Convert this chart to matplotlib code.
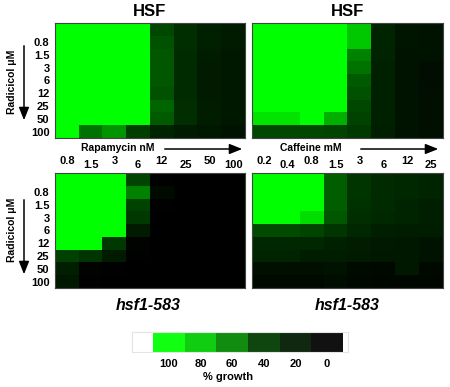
import numpy as np
import matplotlib
matplotlib.use('Agg')
import matplotlib.pyplot as plt
from matplotlib.colors import LinearSegmentedColormap

plt.rcParams['font.family'] = ['Liberation Sans', 'DejaVu Sans']
plt.rcParams['font.weight'] = 'bold'

# concentrations (first row = no radicicol, unlabeled)
radicicol = ['0.8', '1.5', '3', '6', '12', '25', '50', '100']
rapamycin = ['0.8', '1.5', '3', '6', '12', '25', '50', '100']
caffeine = ['0.2', '0.4', '0.8', '1.5', '3', '6', '12', '25']

# % growth, rows = radicicol (0, 0.8 ... 100), cols = second drug
hsf_rapa = np.array([
    [100, 100, 100, 100, 38, 24, 17, 14],
    [100, 100, 100, 100, 42, 24, 17, 14],
    [100, 100, 100, 100, 44, 22, 15, 12],
    [100, 100, 100, 100, 44, 22, 14, 12],
    [100, 100, 100, 100, 44, 22, 14, 12],
    [100, 100, 100, 100, 42, 22, 14, 12],
    [100, 100, 100, 100, 48, 24, 15, 12],
    [100, 100, 100, 100, 45, 24, 15, 12],
    [100, 52, 63, 33, 18, 14, 12, 10],
])
hsf_caff = np.array([
    [100, 100, 100, 100, 80, 18, 11, 10],
    [100, 100, 100, 100, 80, 18, 11, 10],
    [100, 100, 100, 100, 57, 18, 10, 9],
    [100, 100, 100, 100, 52, 17, 10, 7],
    [100, 100, 100, 100, 45, 17, 10, 7],
    [100, 100, 100, 100, 42, 17, 10, 8],
    [100, 100, 100, 100, 38, 17, 10, 8],
    [90, 90, 100, 72, 35, 17, 10, 8],
    [38, 38, 38, 36, 30, 16, 10, 8],
])
mut_rapa = np.array([
    [100, 100, 100, 36, 1, 0, 0, 0],
    [100, 100, 100, 57, 6, 0, 0, 0],
    [100, 100, 100, 35, 1, 0, 0, 0],
    [100, 100, 100, 30, 0, 0, 0, 0],
    [100, 100, 100, 14, 0, 0, 0, 0],
    [100, 100, 30, 2, 0, 0, 0, 0],
    [34, 28, 14, 1, 0, 0, 0, 0],
    [16, 2, 1, 0, 0, 0, 0, 0],
    [12, 1, 0, 0, 0, 0, 0, 0],
])
mut_caff = np.array([
    [100, 100, 100, 46, 28, 22, 20, 18],
    [100, 100, 100, 46, 28, 22, 20, 18],
    [100, 100, 100, 46, 26, 22, 18, 16],
    [100, 100, 88, 44, 24, 20, 18, 16],
    [40, 40, 36, 28, 20, 16, 15, 15],
    [20, 20, 20, 17, 15, 13, 12, 10],
    [18, 18, 15, 15, 14, 12, 12, 10],
    [8, 8, 8, 10, 6, 5, 12, 5],
    [5, 5, 5, 7, 5, 4, 4, 4],
])

pct_labels = ['100', '80', '60', '40', '20', '0']
pct_colors = ['#11ff11', '#11cd11', '#118c11', '#0f460f', '#0f280f', '#111111']

green = LinearSegmentedColormap.from_list('grow', [
    (0.0, '#000000'), (0.2, '#002800'), (0.4, '#004b00'),
    (0.6, '#008c00'), (0.8, '#00c800'), (1.0, '#00ff00')])

W, H = 450, 387
fig = plt.figure(figsize=(4.5, 3.87), dpi=100)


def px_axes(x0, y0, x1, y1):
    # box given in image pixels (top-left origin)
    return fig.add_axes([x0 / W, 1 - y1 / H, (x1 - x0) / W, (y1 - y0) / H])


def draw_map(box, data, col_labels=None, row_labels=None):
    ax = px_axes(*box)
    ax.imshow(data, cmap=green, vmin=0, vmax=100, aspect='auto',
              interpolation='nearest')
    ax.set_xticks([])
    if row_labels:
        ax.set_yticks(range(1, len(row_labels) + 1))
        ax.set_yticklabels(row_labels, fontsize=8, fontweight='bold')
        ax.tick_params(axis='y', length=0, pad=4)
    else:
        ax.set_yticks([])
    if col_labels:
        for i, lab in enumerate(col_labels):
            off = 9 if i % 2 == 0 else 5.5
            ax.annotate(lab, xy=(i, -0.5), xytext=(0, off),
                        textcoords='offset points', ha='center', va='center',
                        fontsize=8, fontweight='bold', annotation_clip=False)
    for s in ax.spines.values():
        s.set_color('#444444')
        s.set_linewidth(0.8)
    return ax


def arrow(x0, y0, x1, y1):
    fig.add_artist(matplotlib.patches.FancyArrowPatch(
        (x0, H - y0), (x1, H - y1), transform=None,
        arrowstyle='-|>,head_length=0.55,head_width=0.22',
        mutation_scale=14, color='black', lw=1.1))


draw_map((55, 23, 245, 138), hsf_rapa, row_labels=radicicol)
draw_map((252, 23, 443, 138), hsf_caff)
draw_map((55, 173, 245, 288), mut_rapa, col_labels=rapamycin, row_labels=radicicol)
draw_map((252, 173, 443, 288), mut_caff, col_labels=caffeine)

# titles
fig.text(150 / W, 1 - 12 / H, 'HSF', ha='center', va='center', fontsize=12)
fig.text(348 / W, 1 - 12 / H, 'HSF', ha='center', va='center', fontsize=12)
fig.text(148 / W, 1 - 305 / H, 'hsf1-583', ha='center', va='center',
         fontsize=11.5, style='italic')
fig.text(347 / W, 1 - 305 / H, 'hsf1-583', ha='center', va='center',
         fontsize=11.5, style='italic')

# radicicol axis labels with arrows
for yc, ya, yb in [(82, 43, 123), (230, 197, 277)]:
    fig.text(12 / W, 1 - yc / H, 'Radicicol \u03bcM', rotation=90,
             ha='center', va='center', fontsize=7.5)
    arrow(24, ya, 24, yb)

# second drug labels with arrows
fig.text(118 / W, 1 - 148 / H, 'Rapamycin nM', ha='center', va='center', fontsize=7.5)
arrow(162, 149, 245, 149)
fig.text(311 / W, 1 - 148 / H, 'Caffeine mM', ha='center', va='center', fontsize=7.5)
arrow(358, 149, 441, 149)

# color key
cax = px_axes(132, 332, 348, 352)
for i, c in enumerate(pct_colors):
    cax.bar(i + 0.5, 1, width=1, color=c, linewidth=0)
cax.set_xlim(-0.66, 6.16)
cax.set_ylim(0, 1)
cax.set_yticks([])
cax.set_xticks(np.arange(len(pct_labels)) + 0.5)
cax.set_xticklabels(pct_labels, fontsize=8, fontweight='bold')
cax.tick_params(axis='x', length=0, pad=5)
for s in cax.spines.values():
    s.set_color('#e4e4e4')
    s.set_linewidth(0.8)
fig.text(228 / W, 1 - 377 / H, '% growth', ha='center', va='center', fontsize=8)

fig.savefig('out.png', dpi=100)
